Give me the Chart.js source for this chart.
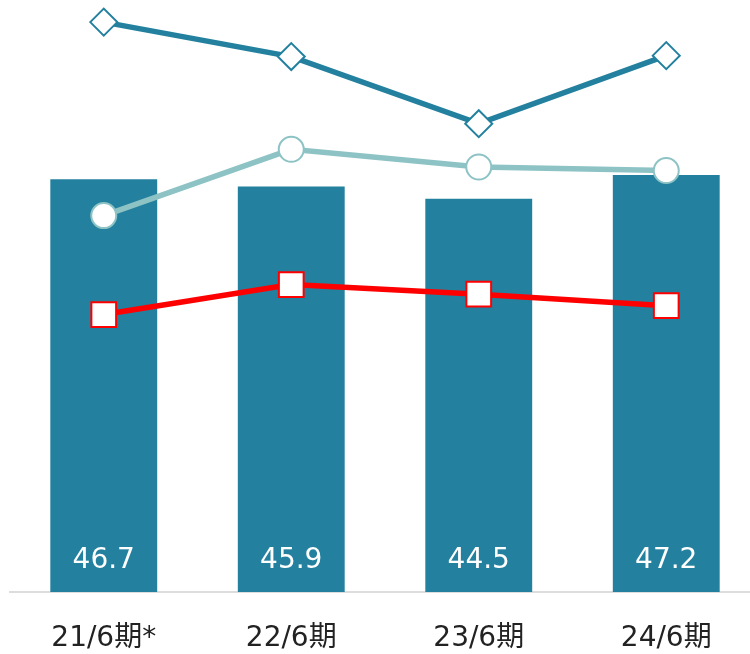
<!DOCTYPE html>
<html>
<head>
<meta charset="utf-8">
<script src="https://cdn.jsdelivr.net/npm/chart.js@4.4.1/dist/chart.umd.min.js"></script>
<style>
    html, body { margin: 0; padding: 0; background: #fff; overflow: hidden; }
    #wrap { position: relative; width: 762px; height: 654px; }
</style>
</head>
<body>
<div id="wrap"><canvas id="chart"></canvas></div>
<script>
const periods = ['21/6期*', '22/6期', '23/6期', '24/6期'];
const barValues = [46.7, 45.9, 44.5, 47.2];
const diamondValues = [64.5, 60.6, 53.0, 60.7];
const circleValues = [42.6, 50.1, 48.1, 47.7];
const squareValues = [31.4, 34.8, 33.7, 32.4];

const TEAL = '#23809e';
const LIGHT_TEAL = '#8dc3c5';
const RED = '#ff0000';
const FONT = '"DejaVu Sans", Verdana, "Noto Sans CJK JP", sans-serif';

// white value text near the foot of each bar
const barValueLabels = {
    id: 'barValueLabels',
    afterDatasetsDraw(chart) {
        const ctx = chart.ctx;
        const meta = chart.getDatasetMeta(3);
        const yScale = chart.scales.y;
        ctx.save();
        ctx.fillStyle = '#ffffff';
        ctx.font = '28px ' + FONT;
        ctx.textAlign = 'center';
        ctx.textBaseline = 'middle';
        meta.data.forEach((bar, i) => {
            ctx.fillText(barValues[i].toFixed(1), bar.x, yScale.getPixelForValue(0) - 31);
        });
        ctx.restore();
    }
};

new Chart(document.getElementById('chart'), {
    data: {
        labels: periods,
        datasets: [
            {
                type: 'line',
                data: diamondValues,
                borderColor: TEAL,
                borderWidth: 5.5,
                pointStyle: 'rectRot',
                pointRadius: 13.5,
                pointBorderWidth: 2,
                pointBorderColor: TEAL,
                pointBackgroundColor: '#ffffff',
                clip: false,
                order: 1
            },
            {
                type: 'line',
                data: circleValues,
                borderColor: LIGHT_TEAL,
                borderWidth: 5.5,
                pointStyle: 'circle',
                pointRadius: 12.5,
                pointBorderWidth: 2,
                pointBorderColor: LIGHT_TEAL,
                pointBackgroundColor: '#ffffff',
                clip: false,
                order: 2
            },
            {
                type: 'line',
                data: squareValues,
                borderColor: RED,
                borderWidth: 5.5,
                pointStyle: 'rect',
                pointRadius: 17.5,
                pointBorderWidth: 2,
                pointBorderColor: RED,
                pointBackgroundColor: '#ffffff',
                clip: false,
                order: 3
            },
            {
                type: 'bar',
                data: barValues,
                backgroundColor: TEAL,
                barPercentage: 0.57,
                categoryPercentage: 1,
                order: 10
            }
        ]
    },
    options: {
        responsive: true,
        maintainAspectRatio: false,
        animation: false,
        layout: { autoPadding: false, padding: { left: 10, right: 2, top: 0, bottom: 0 } },
        plugins: {
            legend: { display: false },
            tooltip: { enabled: false }
        },
        scales: {
            x: {
                grid: { display: false, drawTicks: false },
                border: { display: true, color: '#dddddd', width: 2 },
                ticks: {
                    color: '#222222',
                    font: { family: FONT, size: 28 },
                    padding: 30
                },
                afterFit(scale) { scale.height = 62; }
            },
            y: {
                display: false,
                min: 0,
                max: 67
            }
        }
    },
    plugins: [barValueLabels]
});
</script>
</body>
</html>
